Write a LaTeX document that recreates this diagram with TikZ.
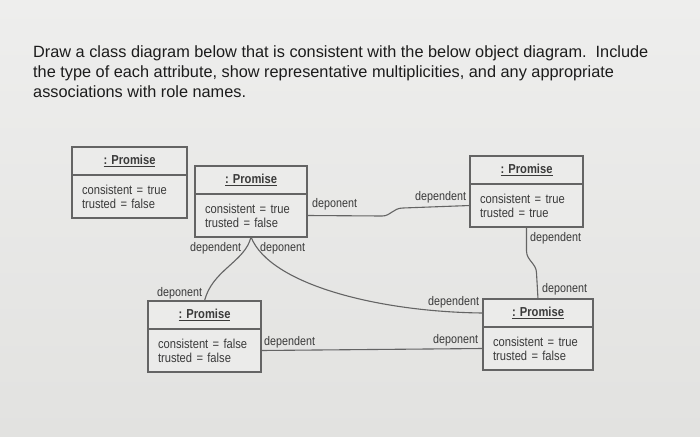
\documentclass[tikz,border=0pt]{standalone}
\usepackage{fontspec}
\setmainfont{Liberation Sans}
\newfontfamily\narrowfont[FakeStretch=0.86]{Liberation Sans}
\usepackage{tikz}
\usetikzlibrary{positioning}
\definecolor{paper}{RGB}{226,226,224}
\definecolor{paperlight}{RGB}{238,238,237}
\definecolor{boxfill}{RGB}{235,235,234}
\definecolor{edge}{RGB}{100,100,100}
\definecolor{ink}{RGB}{28,28,28}
\definecolor{inkgray}{RGB}{58,58,58}
\tikzset{
  heading/.style={align=left,inner sep=0pt,text=ink,font=\fontsize{16.3}{20}\selectfont},
  objtitle/.style={rectangle,draw=edge,line width=1.1pt,fill=boxfill,outer sep=0pt,
              minimum width=#1,minimum height=28pt,text=inkgray,
              font=\narrowfont\bfseries\fontsize{13}{15}\selectfont},
  objbody/.style={rectangle,draw=edge,line width=1.1pt,fill=boxfill,outer sep=0pt,
              text width=#1,inner xsep=10pt,minimum height=43pt,align=left,text=inkgray,
              font=\narrowfont\fontsize{13}{14}\selectfont},
  role/.style={inner sep=0pt,text=inkgray,font=\narrowfont\fontsize{12.5}{14}\selectfont},
  link/.style={draw=edge,line width=1.1pt},
}
\begin{document}
\begin{tikzpicture}[x=1pt,y=-1pt]
  \fill[top color=paperlight,bottom color=paper] (0,0) rectangle (700,436);
  \useasboundingbox (0,0) rectangle (700,436);

  \node[heading,anchor=north west] (task) at (33,45) {Draw a class diagram below that is consistent with the below object diagram.\ \ Include\\the type of each attribute, show representative multiplicities, and any appropriate\\associations with role names.};

  \node[objtitle=115pt,anchor=north west] (p1t) at (72,147) {\underline{: Promise}};
  \node[objbody=95pt,below=0pt of p1t] (p1b) {consistent = true\\trusted = false};
  \node[objtitle=112pt,anchor=north west] (p2t) at (195,166) {\underline{: Promise}};
  \node[objbody=92pt,below=0pt of p2t] (p2b) {consistent = true\\trusted = false};
  \node[objtitle=113pt,anchor=north west] (p3t) at (148,301) {\underline{: Promise}};
  \node[objbody=93pt,below=0pt of p3t] (p3b) {consistent = false\\trusted = false};
  \node[objtitle=113pt,anchor=north west] (p4t) at (470,156) {\underline{: Promise}};
  \node[objbody=93pt,below=0pt of p4t] (p4b) {consistent = true\\trusted = true};
  \node[objtitle=110pt,anchor=north west] (p5t) at (483,299) {\underline{: Promise}};
  \node[objbody=90pt,below=0pt of p5t] (p5b) {consistent = true\\trusted = false};

  \draw[link] (p2b.east) -- (382,216) .. controls (391,216) and (393,208) .. (403,208) -- (p4b.west);
  \draw[link] (p3b.east) -- (p5b.west);
  \draw[link] (p4b.south) -- ++(0,24) to[out=-90,in=90] ++(10,22) -- (p5t.north);
  \draw[link] (p2b.south) .. controls (245,262) and (212,270) .. (p3t.north);
  \draw[link] (p2b.south) .. controls (270,285) and (380,312) .. (p5t.west);

  \node[role,anchor=west] (r1) at (312,204) {deponent};
  \node[role,anchor=west] (r2) at (415,197) {dependent};
  \node[role,anchor=west] (r3) at (190,248) {dependent};
  \node[role,anchor=west] (r4) at (260,248) {deponent};
  \node[role,anchor=west] (r5) at (157,293) {deponent};
  \node[role,anchor=west] (r6) at (428,302) {dependent};
  \node[role,anchor=west] (r7) at (530,238) {dependent};
  \node[role,anchor=west] (r8) at (542,289) {deponent};
  \node[role,anchor=west] (r9) at (264,342) {dependent};
  \node[role,anchor=west] (r10) at (433,340) {deponent};
\end{tikzpicture}
\end{document}
